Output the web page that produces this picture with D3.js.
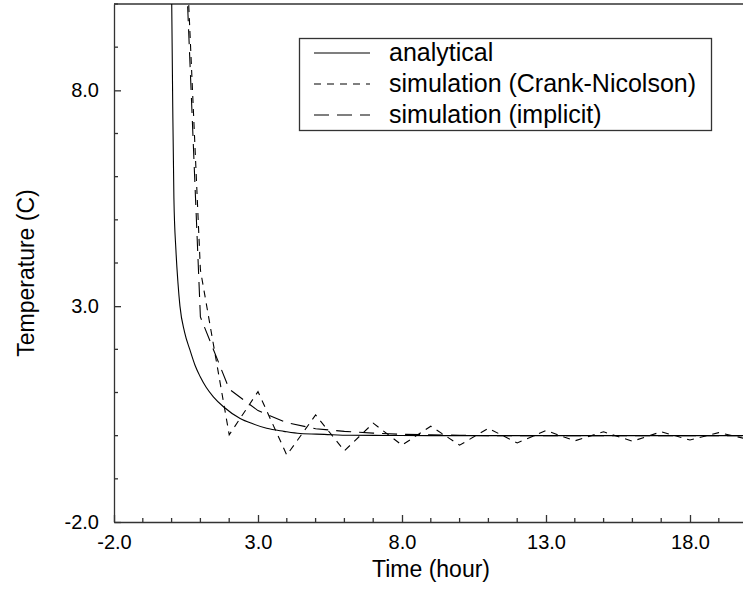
<!DOCTYPE html>
<html>
<head>
<meta charset="utf-8">
<script src="https://cdn.jsdelivr.net/npm/d3@7"></script>
<style>
  body { margin: 0; background: #fff; }
  svg { display: block; font-family: "Liberation Sans", Arial, sans-serif; }
</style>
</head>
<body>
<div id="chart"></div>
<script>
// analytical solution (time in hours, temperature in C)
const analyticalTime = [0.0, 0.04, 0.08, 0.15, 0.22, 0.29, 0.45, 0.64, 0.82, 0.99, 1.2, 1.45, 1.8, 2.38, 2.8, 3.3, 3.9, 4.46, 5.3, 6.2, 7.5, 9, 12, 16, 20];
const analyticalTemp = [10.3, 7.6, 5.5, 4.3, 3.55, 3.0, 2.4, 1.98, 1.62, 1.37, 1.12, 0.9, 0.67, 0.4, 0.28, 0.17, 0.1, 0.05, 0.03, 0.01, 0.005, 0, 0, 0, 0];

// simulation, one value per hour
const simTime = [0, 1, 2, 3, 4, 5, 6, 7, 8, 9, 10, 11, 12, 13, 14, 15, 16, 17, 18, 19, 20];
const crankNicolson = [19, 3.84, 0.02, 1.02, -0.45, 0.48, -0.35, 0.29, -0.22, 0.22, -0.22, 0.17, -0.17, 0.12, -0.12, 0.09, -0.13, 0.09, -0.1, 0.07, -0.08];
const implicit = [19, 2.75, 1.08, 0.58, 0.3, 0.16, 0.1, 0.06, 0.03, 0.02, 0.01, 0, 0, 0, 0, 0, 0, 0, 0, 0, 0];

const xTicks = [-2, 3, 8, 13, 18];
const yTicks = [-2, 3, 8];
const legendLabels = ["analytical", "simulation (Crank-Nicolson)", "simulation (implicit)"];

const width = 743, height = 589;
const plotLeft = 114, plotTop = 4, plotBottom = 522;

// plain hyphen for negatives, like the original
const fmt = d => d.toFixed(1);

const svg = d3.select("#chart").append("svg")
    .attr("width", width)
    .attr("height", height);

// scales
const x = d3.scaleLinear().domain([-2, 20]).range([plotLeft, plotLeft + 22 * 28.8]);
const y = d3.scaleLinear().domain([-2, 10]).range([plotBottom, plotTop]);

svg.append("clipPath").attr("id", "plot")
    .append("rect")
    .attr("x", plotLeft).attr("y", plotTop)
    .attr("width", x(20) - plotLeft).attr("height", plotBottom - plotTop);

// minor and major ticks, pointing inward
const xMinor = d3.range(-2, 21, 1).filter(v => !xTicks.includes(v));
const yMinor = d3.range(-2, 11, 1).filter(v => !yTicks.includes(v));

const xAxis = d3.axisBottom(x).tickValues(xTicks).tickFormat(fmt)
    .tickSizeInner(-7).tickSizeOuter(0).tickPadding(15);
const yAxis = d3.axisLeft(y).tickValues(yTicks).tickFormat(fmt)
    .tickSizeInner(-7).tickSizeOuter(0).tickPadding(15);

const gx = svg.append("g").attr("transform", `translate(0,${plotBottom})`).call(xAxis);
const gy = svg.append("g").attr("transform", `translate(${plotLeft},0)`).call(yAxis);

gx.selectAll(".minor").data(xMinor).enter().append("line")
    .attr("class", "minor")
    .attr("x1", d => x(d)).attr("x2", d => x(d))
    .attr("y1", 0).attr("y2", -4);
gy.selectAll(".minor").data(yMinor).enter().append("line")
    .attr("class", "minor")
    .attr("y1", d => y(d)).attr("y2", d => y(d))
    .attr("x1", 0).attr("x2", 4);

svg.selectAll(".domain, .tick line, .minor").attr("stroke", "#333").attr("stroke-width", 1.3);
gx.selectAll("text").attr("font-size", 20).attr("fill", "#000").attr("dy", "0.71em").attr("y", 13);
gy.selectAll("text").attr("font-size", 20).attr("fill", "#000").attr("x", -15);

// top border
svg.append("line")
    .attr("x1", plotLeft).attr("x2", width)
    .attr("y1", plotTop).attr("y2", plotTop)
    .attr("stroke", "#333").attr("stroke-width", 1.3);

// axis titles
svg.append("text")
    .attr("x", 431).attr("y", 577)
    .attr("text-anchor", "middle")
    .attr("font-size", 23)
    .text("Time (hour)");

svg.append("text")
    .attr("transform", "translate(34,273) rotate(-90)")
    .attr("text-anchor", "middle")
    .attr("font-size", 23)
    .text("Temperature (C)");

// curves
const series = [
    {xs: analyticalTime, ys: analyticalTemp, dash: null, curve: d3.curveMonotoneX},
    {xs: simTime, ys: crankNicolson, dash: "7,6", curve: d3.curveLinear},
    {xs: simTime, ys: implicit, dash: "15,8", curve: d3.curveLinear}
];

const plot = svg.append("g").attr("clip-path", "url(#plot)");
series.forEach(s => {
    const line = d3.line().x(d => x(d[0])).y(d => y(d[1])).curve(s.curve);
    plot.append("path")
        .datum(s.xs.map((t, i) => [t, s.ys[i]]))
        .attr("d", line)
        .attr("fill", "none")
        .attr("stroke", "#000")
        .attr("stroke-width", 1.1)
        .attr("stroke-dasharray", s.dash);
});

// legend
const legend = svg.append("g");
legend.append("rect")
    .attr("x", 299.5).attr("y", 38.5)
    .attr("width", 412).attr("height", 92)
    .attr("fill", "#fff")
    .attr("stroke", "#333").attr("stroke-width", 1.3);

legendLabels.forEach((label, i) => {
    const ly = 53 + i * 31;
    legend.append("line")
        .attr("x1", 314).attr("x2", 370)
        .attr("y1", ly).attr("y2", ly)
        .attr("stroke", "#000").attr("stroke-width", 1.1)
        .attr("stroke-dasharray", series[i].dash);
    legend.append("text")
        .attr("x", 389).attr("y", ly + 8)
        .attr("font-size", 25)
        .text(label);
});
</script>
</body>
</html>
